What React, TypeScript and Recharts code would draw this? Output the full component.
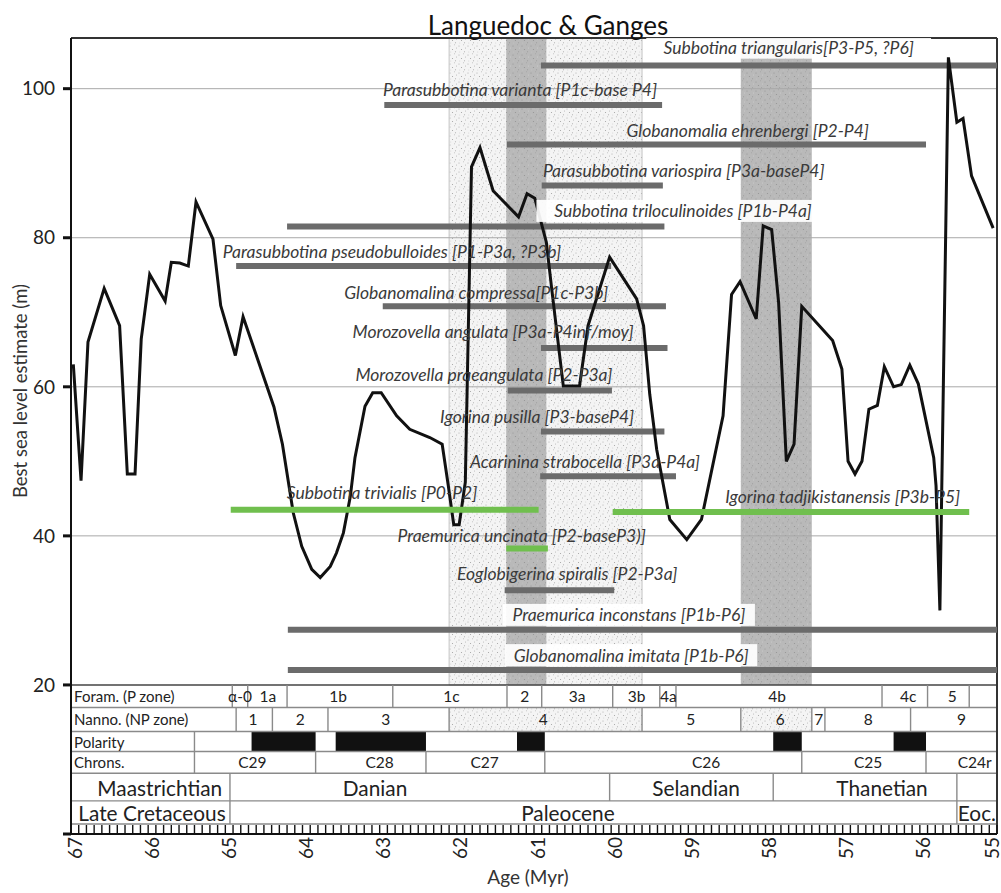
import React from 'react';
import { ComposedChart, Line, XAxis, YAxis, ReferenceArea, ReferenceLine, Scatter } from 'recharts';

// ---- sea level curve ----
const curveAge = [66.97, 66.87, 66.78, 66.57, 66.37, 66.27, 66.17, 66.09, 65.98, 65.78, 65.70, 65.59, 65.48, 65.38, 65.16, 65.06, 64.87, 64.77, 64.37, 64.26, 64.12, 64.01, 63.88, 63.77, 63.64, 63.56, 63.47, 63.38, 63.32, 63.19, 63.09, 62.98, 62.78, 62.61, 62.35, 62.19, 62.11, 62.04, 61.97, 61.89, 61.81, 61.70, 61.53, 61.20, 61.09, 60.99, 60.84, 60.77, 60.62, 60.41, 60.30, 60.02, 59.67, 59.58, 59.50, 59.41, 59.24, 59.02, 58.83, 58.55, 58.44, 58.33, 58.12, 58.03, 57.92, 57.83, 57.73, 57.63, 57.53, 57.13, 57.01, 56.93, 56.84, 56.75, 56.66, 56.55, 56.46, 56.34, 56.24, 56.13, 56.02, 55.82, 55.79, 55.74, 55.63, 55.52, 55.44, 55.33, 55.05];
const curveLevel = [63.0, 47.4, 66.0, 73.2, 68.2, 48.3, 48.3, 66.4, 75.1, 71.5, 76.7, 76.6, 76.2, 84.8, 79.8, 70.9, 64.2, 69.4, 57.3, 52.3, 43.1, 38.6, 35.5, 34.4, 35.9, 37.7, 40.4, 45.3, 50.5, 57.4, 59.2, 59.2, 56.1, 54.3, 53.2, 52.3, 46.7, 41.5, 41.5, 47.2, 89.5, 92.1, 86.3, 82.8, 85.9, 85.3, 79.4, 73.1, 60.1, 60.1, 68.2, 77.4, 71.8, 68.2, 59.0, 51.6, 42.2, 39.5, 42.2, 56.1, 72.4, 74.1, 69.1, 81.6, 81.1, 71.3, 50.0, 52.3, 70.8, 66.2, 62.4, 50.0, 48.3, 50.0, 57.0, 57.5, 62.7, 60.0, 60.3, 62.9, 60.4, 50.5, 46.7, 30.0, 104.2, 95.5, 96.0, 88.3, 81.3];

// ---- species ranges ----
const speciesNames = [
  'Subbotina triangularis[P3-P5, ?P6]',
  'Parasubbotina varianta [P1c-base P4]',
  'Globanomalia ehrenbergi [P2-P4]',
  'Parasubbotina variospira [P3a-baseP4]',
  'Subbotina triloculinoides [P1b-P4a]',
  'Parasubbotina pseudobulloides [P1-P3a, ?P3b]',
  'Globanomalina compressa[P1c-P3b]',
  'Morozovella angulata [P3a-P4inf/moy]',
  'Morozovella praeangulata [P2-P3a]',
  'Igorina pusilla [P3-baseP4]',
  'Acarinina strabocella [P3a-P4a]',
  'Subbotina trivialis [P0-P2]',
  'Igorina tadjikistanensis [P3b-P5]',
  'Praemurica uncinata [P2-baseP3)]',
  'Eoglobigerina spiralis [P2-P3a]',
  'Praemurica inconstans [P1b-P6]',
  'Globanomalina imitata [P1b-P6]',
];
const rangeOldest = [60.91, 62.94, 61.35, 60.90, 64.20, 64.86, 62.96, 60.91, 61.34, 60.91, 60.92, 64.93, 59.98, 61.36, 61.38, 64.19, 64.19];
const rangeYoungest = [55, 59.34, 55.92, 59.33, 59.31, 60.00, 59.29, 59.27, 59.99, 59.31, 59.16, 60.94, 55.36, 60.82, 59.96, 55, 55];
const rangeLevel = [103.1, 97.8, 92.5, 87.0, 81.5, 76.2, 70.8, 65.2, 59.5, 54.0, 48.0, 43.5, 43.2, 38.3, 32.7, 27.4, 22.0];
const labelAge = [57.70, 61.18, 58.23, 59.06, 59.07, 62.84, 61.75, 61.53, 61.65, 60.96, 60.34, 62.97, 57.00, 61.16, 60.57, 59.77, 59.74];
const labelLevel = [105.5, 99.9, 94.4, 89.0, 83.6, 78.2, 72.7, 67.4, 61.7, 56.0, 50.0, 45.8, 45.3, 40.1, 34.9, 29.4, 24.0];
const greenSpecies = ['Subbotina trivialis [P0-P2]', 'Igorina tadjikistanensis [P3b-P5]', 'Praemurica uncinata [P2-baseP3)]'];
const boxedSpecies = ['Subbotina triangularis[P3-P5, ?P6]', 'Subbotina triloculinoides [P1b-P4a]', 'Praemurica inconstans [P1b-P6]', 'Globanomalina imitata [P1b-P6]'];

// ---- shaded intervals ----
const stippleBand = [62.10, 59.60];
const darkBands = [[61.36, 60.84], [58.32, 57.40]];

// ---- stratigraphic table ----
const rowEdges = [20, 16.98, 13.75, 11.06, 8.16, 4.44, 1.34];
const rowHeaders = ['Foram. (P zone)', 'Nanno. (NP zone)', 'Polarity', 'Chrons.'];
const foramBounds = [64.91, 64.71, 64.20, 62.83, 61.35, 60.90, 59.98, 59.37, 59.16, 56.49, 55.90, 55.36];
const foramZones = ['α-0', '1a', '1b', '1c', '2', '3a', '3b', '4a', '4b', '4c', '5'];
const foramCenters = [64.81, 64.45, 63.54, 62.07, 61.12, 60.44, 59.67, 59.26, 57.85, 56.15, 55.58];
const nannoBounds = [64.86, 64.39, 63.67, 62.10, 59.60, 58.32, 57.40, 57.23, 56.12];
const nannoZones = ['1', '2', '3', '4', '5', '6', '7', '8', '9'];
const nannoCenters = [64.64, 64.03, 62.92, 60.88, 58.97, 57.81, 57.31, 56.67, 55.46];
const nannoStippled = [[62.10, 59.60], [58.32, 57.40]];
const polarityStart = 65.40;
const normalPolarity = [[64.66, 63.83], [63.57, 62.40], [61.22, 60.86], [57.90, 57.53], [56.34, 55.92]];
const chronBounds = [63.83, 62.40, 60.86, 57.53, 55.92];
const chronNames = ['C29', 'C28', 'C27', 'C26', 'C25', 'C24r'];
const chronCenters = [64.65, 63.00, 61.64, 58.77, 56.67, 55.29];
const stageBounds = [64.94, 60.02, 57.90, 55.52];
const stageNames = ['Maastrichtian', 'Danian', 'Selandian', 'Thanetian'];
const stageCenters = [65.85, 63.06, 58.90, 56.49];
const epochBounds = [64.94, 55.52];
const epochNames = ['Late Cretaceous', 'Paleocene', 'Eoc.'];
const epochCenters = [65.95, 60.56, 55.26];

const gridLevels = [40, 60, 80, 100];
const yTicks = [0, 20, 40, 60, 80, 100];
const majorAges = [67, 66, 65, 64, 63, 62, 61, 60, 59, 58, 57, 56, 55];
const ageTicks = Array.from({ length: 121 }, (_, i) => Math.round((55 + i * 0.1) * 10) / 10);

const Y_TOP = 106.8;
const FONT = 'Lato, "Open Sans", sans-serif';

// derived tables
const curveData = curveAge.map((a, i) => ({ age: a, sl: curveLevel[i] }));
const speciesLabelData = speciesNames.map((n, i) => ({ age: labelAge[i], y: labelLevel[i], name: n, boxed: boxedSpecies.includes(n) }));
const mid = (a: number, b: number) => (a + b) / 2;
const headerData = rowHeaders.map((h, i) => ({ age: 66.96, y: mid(rowEdges[i], rowEdges[i + 1]), name: h }));
const zoneData = [
  ...foramZones.map((z, i) => ({ age: foramCenters[i], y: mid(rowEdges[0], rowEdges[1]), name: z })),
  ...nannoZones.map((z, i) => ({ age: nannoCenters[i], y: mid(rowEdges[1], rowEdges[2]), name: z })),
  ...chronNames.map((z, i) => ({ age: chronCenters[i], y: mid(rowEdges[3], rowEdges[4]), name: z })),
];
const stageData = [
  ...stageNames.map((s, i) => ({ age: stageCenters[i], y: mid(rowEdges[4], rowEdges[5]), name: s })),
  ...epochNames.map((s, i) => ({ age: epochCenters[i], y: mid(rowEdges[5], rowEdges[6]), name: s })),
];

const SpeciesLabel = (props: any) => {
  const { cx, cy, payload } = props;
  const w = payload.name.length * 8.2;
  return (
    <g>
      {payload.boxed && <rect x={cx - w / 2 - 3} y={cy - 11} width={w + 6} height={22} fill="#ffffff" fillOpacity={0.92} />}
      <text x={cx} y={cy} textAnchor="middle" dominantBaseline="central" fontFamily={FONT} fontStyle="italic" fontSize={17.5} fill="#3a3a3a">
        {payload.name}
      </text>
    </g>
  );
};

const makeText = (size: number, anchor: string) => (props: any) => {
  const { cx, cy, payload } = props;
  return (
    <text x={cx} y={cy} textAnchor={anchor} dominantBaseline="central" fontFamily={FONT} fontSize={size} fill="#222">
      {payload.name}
    </text>
  );
};
const HeaderText = makeText(15, 'start');
const ZoneText = makeText(15.5, 'middle');
const StageText = makeText(20.8, 'middle');

const AgeTick = (props: any) => {
  const { x, y, payload } = props;
  const v = payload.value;
  const major = majorAges.includes(v);
  const tx = Math.min(x + 3, 983);
  return (
    <g>
      <line x1={x} x2={x} y1={y} y2={y - 9} stroke="#111" strokeWidth={1.4} />
      {major && (
        <text x={tx} y={y + 14} transform={`rotate(-90 ${tx} ${y + 14})`} textAnchor="middle" dominantBaseline="central" fontFamily={FONT} fontSize={19} fill="#222">
          {v}
        </text>
      )}
    </g>
  );
};

export default function App() {
  const tableLine = '#8a8a8a';
  const vseg = (age: number, y1: number, y2: number, key: string) => (
    <ReferenceLine key={key} segment={[{ x: age, y: y1 }, { x: age, y: y2 }]} stroke={tableLine} strokeWidth={1.4} />
  );
  return (
    <div style={{ position: 'relative', width: 1001, height: 893, fontFamily: FONT, background: '#fff' }}>
      <style>{'html,body{margin:0;padding:0;overflow:hidden;} #root{width:1001px;height:893px;overflow:visible;}'}</style>
      <svg width={0} height={0} style={{ position: 'absolute' }}>
        <defs>
          <pattern id="stippleLight" width="9" height="9" patternUnits="userSpaceOnUse">
            <rect width="9" height="9" fill="#f4f4f4" />
            <circle cx="1" cy="2" r="0.55" fill="#a8a8a8" />
            <circle cx="5.5" cy="0.8" r="0.5" fill="#b8b8b8" />
            <circle cx="3.5" cy="5.5" r="0.55" fill="#a0a0a0" />
            <circle cx="7.5" cy="4" r="0.5" fill="#b0b0b0" />
            <circle cx="6.5" cy="7.8" r="0.55" fill="#a8a8a8" />
            <circle cx="1.8" cy="8" r="0.45" fill="#c0c0c0" />
          </pattern>
          <pattern id="stippleDark" width="9" height="9" patternUnits="userSpaceOnUse">
            <rect width="9" height="9" fill="#b9b9b9" />
            <circle cx="1" cy="2" r="0.6" fill="#969696" />
            <circle cx="5.5" cy="0.8" r="0.5" fill="#a2a2a2" />
            <circle cx="3.5" cy="5.5" r="0.6" fill="#949494" />
            <circle cx="7.5" cy="4" r="0.5" fill="#cfcfcf" />
            <circle cx="6.5" cy="7.8" r="0.55" fill="#9a9a9a" />
            <circle cx="1.8" cy="8" r="0.45" fill="#cacaca" />
          </pattern>
        </defs>
      </svg>
      <div style={{ position: 'absolute', left: 8, top: 8 }}>
        <ComposedChart width={993} height={877} margin={{ top: 30, right: 4, bottom: 0, left: 0 }}>
          <XAxis
            dataKey="age"
            type="number"
            domain={[55, 67]}
            reversed
            allowDataOverflow
            ticks={ageTicks}
            interval={0}
            tickSize={0}
            tickMargin={0}
            tickLine={false}
            tick={<AgeTick />}
            axisLine={{ stroke: '#111', strokeWidth: 2 }}
            height={51}
          />
          <YAxis
            type="number"
            domain={[0, Y_TOP]}
            allowDataOverflow
            ticks={yTicks}
            tickFormatter={(v: number) => (v === 0 ? '' : String(v))}
            tick={{ fontSize: 19, fill: '#222', fontFamily: FONT }}
            tickLine={{ stroke: '#111', strokeWidth: 3 }}
            tickSize={8}
            tickMargin={8}
            axisLine={{ stroke: '#111', strokeWidth: 2 }}
            width={63}
          />

          {/* shaded intervals */}
          <ReferenceArea x1={stippleBand[0]} x2={stippleBand[1]} y1={20} y2={Y_TOP} fill="url(#stippleLight)" fillOpacity={1} stroke="#c4c4c4" strokeWidth={1} />
          {darkBands.map((b, i) => (
            <ReferenceArea key={`db${i}`} x1={b[0]} x2={b[1]} y1={20} y2={Y_TOP} fill="url(#stippleDark)" fillOpacity={1} stroke="none" />
          ))}
          {nannoStippled.map((b, i) => (
            <ReferenceArea key={`ns${i}`} x1={b[0]} x2={b[1]} y1={rowEdges[2]} y2={rowEdges[1]} fill="url(#stippleLight)" fillOpacity={1} stroke="none" />
          ))}
          {normalPolarity.map((b, i) => (
            <ReferenceArea key={`np${i}`} x1={b[0]} x2={b[1]} y1={rowEdges[3]} y2={rowEdges[2]} fill="#111" fillOpacity={1} stroke="none" />
          ))}

          {/* grid */}
          {gridLevels.map((g) => (
            <ReferenceLine key={`g${g}`} y={g} stroke="#a8a8a8" strokeWidth={1} />
          ))}

          {/* table lines */}
          {rowEdges.slice(1).map((r, i) => (
            <ReferenceLine key={`r${i}`} y={r} stroke={tableLine} strokeWidth={1.4} />
          ))}
          <ReferenceLine y={20} stroke="#444" strokeWidth={1.6} />
          {foramBounds.map((b, i) => vseg(b, rowEdges[0], rowEdges[1], `fb${i}`))}
          {nannoBounds.map((b, i) => vseg(b, rowEdges[1], rowEdges[2], `nb${i}`))}
          {vseg(polarityStart, rowEdges[2], rowEdges[4], 'ps')}
          {chronBounds.map((b, i) => vseg(b, rowEdges[3], rowEdges[4], `cb${i}`))}
          {stageBounds.map((b, i) => vseg(b, rowEdges[4], epochBounds.includes(b) ? rowEdges[6] : rowEdges[5], `sb${i}`))}

          {/* frame */}
          <ReferenceLine y={Y_TOP} stroke="#333" strokeWidth={2} />
          <ReferenceLine x={55} stroke="#333" strokeWidth={2} />

          {/* gray range bars */}
          {speciesNames.map((n, i) =>
            greenSpecies.includes(n) ? null : (
              <Line
                key={`bar${i}`}
                data={[{ age: rangeOldest[i], v: rangeLevel[i] }, { age: rangeYoungest[i], v: rangeLevel[i] }]}
                dataKey="v"
                stroke="#6b6b6b"
                strokeWidth={6}
                dot={false}
                activeDot={false}
                isAnimationActive={false}
              />
            )
          )}

          {/* sea level curve */}
          <Line data={curveData} dataKey="sl" type="linear" stroke="#111" strokeWidth={3} dot={false} activeDot={false} isAnimationActive={false} strokeLinejoin="miter" />

          {/* green range bars */}
          {speciesNames.map((n, i) =>
            greenSpecies.includes(n) ? (
              <Line
                key={`gbar${i}`}
                data={[{ age: rangeOldest[i], v: rangeLevel[i] }, { age: rangeYoungest[i], v: rangeLevel[i] }]}
                dataKey="v"
                stroke="#70bf4e"
                strokeWidth={6}
                dot={false}
                activeDot={false}
                isAnimationActive={false}
              />
            ) : null
          )}

          {/* texts */}
          <Scatter data={speciesLabelData} dataKey="y" shape={SpeciesLabel} isAnimationActive={false} />
          <Scatter data={headerData} dataKey="y" shape={HeaderText} isAnimationActive={false} />
          <Scatter data={zoneData} dataKey="y" shape={ZoneText} isAnimationActive={false} />
          <Scatter data={stageData} dataKey="y" shape={StageText} isAnimationActive={false} />
        </ComposedChart>
      </div>
      <div style={{ position: 'absolute', left: 548, top: 10, transform: 'translateX(-50%)', fontSize: 26, lineHeight: '30px', color: '#111', whiteSpace: 'nowrap', zIndex: 2 }}>
        Languedoc &amp; Ganges
      </div>
      <div style={{ position: 'absolute', left: 20, top: 391, transform: 'translate(-50%, -50%) rotate(-90deg)', fontSize: 18.5, color: '#333', whiteSpace: 'nowrap', zIndex: 2 }}>
        Best sea level estimate (m)
      </div>
      <div style={{ position: 'absolute', left: 528, top: 866, transform: 'translateX(-50%)', fontSize: 19, lineHeight: '22px', color: '#333', whiteSpace: 'nowrap', zIndex: 2 }}>
        Age (Myr)
      </div>
    </div>
  );
}
